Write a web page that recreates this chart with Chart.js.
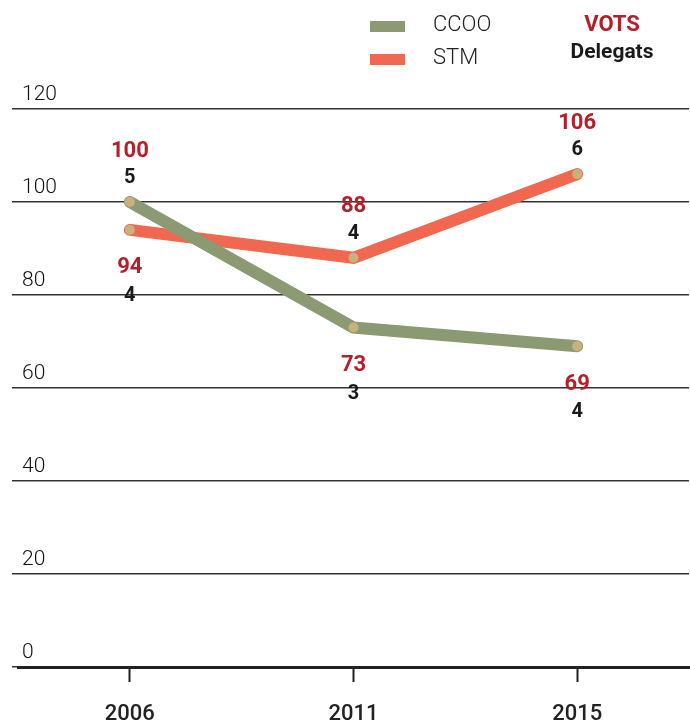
<!DOCTYPE html>
<html>
<head>
<meta charset="utf-8">
<script src="https://cdn.jsdelivr.net/npm/chart.js@4"></script>
<style>
  html, body { margin: 0; background: #fff; overflow: hidden; }
  #wrap { width: 690px; height: 723px; overflow: hidden; }
  canvas { display: block; }
</style>
</head>
<body>
<div id="wrap"><canvas id="myChart" width="694" height="723"></canvas></div>
<script>
const years = ['2006', '2011', '2015'];
const ccooVots = [100, 73, 69];
const stmVots = [94, 88, 106];
const ccooDelegats = [5, 3, 4];
const stmDelegats = [4, 4, 6];

const green = '#8c9a74';
const orange = '#ef684f';
const pointTan = '#c8b17c';
const red = '#b51f2a';
const dark = '#222222';

// labels VOTS / Delegats next to every point
const pointLabels = {
    id: 'pointLabels',
    afterDatasetsDraw(chart) {
        const ctx = chart.ctx;
        const a = chart.getDatasetMeta(0).data;
        const b = chart.getDatasetMeta(1).data;
        const sets = chart.data.datasets;
        ctx.save();
        ctx.textAlign = 'center';
        ctx.textBaseline = 'middle';
        years.forEach((y, i) => {
            const pair = [
                {pt: a[i], v: sets[0].data[i], d: sets[0].delegats[i]},
                {pt: b[i], v: sets[1].data[i], d: sets[1].delegats[i]}
            ];
            pair.forEach((p, j) => {
                const other = pair[1 - j];
                const up = p.v >= other.v;
                const y1 = up ? p.pt.y - 51 : p.pt.y + 38;
                const y2 = up ? p.pt.y - 24 : p.pt.y + 66;
                ctx.font = 'bold 22px Roboto';
                ctx.fillStyle = red;
                ctx.fillText(String(p.v), p.pt.x, y1);
                ctx.font = 'bold 20px Roboto';
                ctx.fillStyle = '#1a1a1a';
                ctx.fillText(String(p.d), p.pt.x, y2);
            });
        });
        ctx.restore();
    }
};

// legend at the top
const topLegend = {
    id: 'topLegend',
    afterDraw(chart) {
        const ctx = chart.ctx;
        ctx.save();
        chart.data.datasets.forEach((ds, i) => {
            const cy = 26 + i * 33;
            ctx.fillStyle = ds.borderColor;
            ctx.fillRect(370, cy - 5, 35, 11);
            ctx.font = '300 22px Roboto';
            ctx.fillStyle = dark;
            ctx.textAlign = 'left';
            ctx.textBaseline = 'middle';
            ctx.fillText(ds.label, 433, cy - 1);
        });
        ctx.textAlign = 'center';
        ctx.textBaseline = 'middle';
        ctx.font = 'bold 22px Roboto';
        ctx.fillStyle = red;
        ctx.fillText('VOTS', 612, 25);
        ctx.font = 'bold 21px Roboto';
        ctx.fillStyle = '#1a1a1a';
        ctx.fillText('Delegats', 612, 53);
        ctx.restore();
    }
};

const data = {
    labels: years,
    datasets: [
        {
            label: 'CCOO',
            data: ccooVots,
            delegats: ccooDelegats,
            borderColor: green,
            backgroundColor: green,
            borderWidth: 12,
            borderCapStyle: 'round',
            pointRadius: 5,
            pointBackgroundColor: pointTan,
            pointBorderWidth: 0,
            tension: 0
        },
        {
            label: 'STM',
            data: stmVots,
            delegats: stmDelegats,
            borderColor: orange,
            backgroundColor: orange,
            borderWidth: 12,
            borderCapStyle: 'round',
            pointRadius: 5,
            pointBackgroundColor: pointTan,
            pointBorderWidth: 0,
            tension: 0
        }
    ]
};

const config = {
    type: 'line',
    data: data,
    options: {
        responsive: false,
        animation: false,
        layout: { padding: { top: 109, left: 12, right: 1, bottom: 0 } },
        plugins: {
            legend: { display: false },
            tooltip: { enabled: false }
        },
        scales: {
            x: {
                offset: true,
                afterFit(scale) {
                    scale.height = 56;
                    scale.paddingLeft = 0;
                    scale.paddingRight = 0;
                },
                grid: {
                    offset: false,
                    drawOnChartArea: false,
                    drawTicks: true,
                    tickLength: 15,
                    tickWidth: 2,
                    tickColor: dark
                },
                border: { display: true, width: 3, color: dark },
                ticks: {
                    padding: 21,
                    color: dark,
                    font: { family: 'Roboto', size: 22, weight: '500', lineHeight: 1 }
                }
            },
            y: {
                min: 0,
                max: 120,
                afterFit(scale) { scale.width = 6; },
                grid: {
                    color: '#333',
                    lineWidth: 1.5,
                    drawTicks: true,
                    tickLength: 6,
                    tickColor: '#333'
                },
                border: { display: false },
                ticks: {
                    stepSize: 20,
                    mirror: true,
                    padding: 4,
                    labelOffset: -14,
                    color: '#111',
                    font: { family: 'Roboto', size: 21, weight: '300' }
                }
            }
        }
    },
    plugins: [pointLabels, topLegend]
};

const myChart = new Chart(document.getElementById('myChart'), config);
</script>
</body>
</html>
